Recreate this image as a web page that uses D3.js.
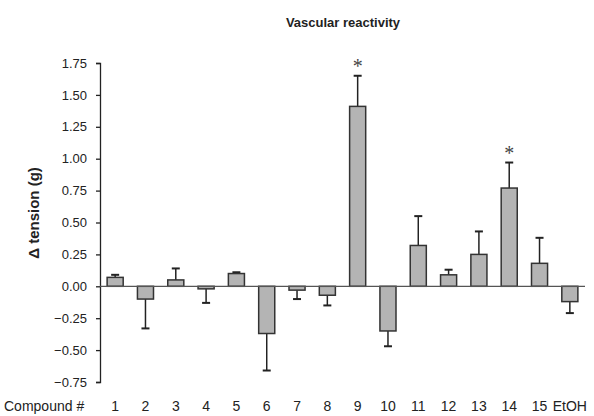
<!DOCTYPE html>
<html lang="en">
<head>
    <meta charset="UTF-8">
    <title>Vascular reactivity</title>
    <script src="https://d3js.org/d3.v7.min.js"></script>
    <style>
        body { margin: 0; background: #fff; }
        svg { display: block; font-family: "Liberation Sans", Arial, sans-serif; }
    </style>
</head>
<body>
<svg width="594" height="416"></svg>
<script>
    const compounds = ["1", "2", "3", "4", "5", "6", "7", "8", "9", "10", "11", "12", "13", "14", "15", "EtOH"];
    const tension = [0.07, -0.10, 0.05, -0.02, 0.10, -0.37, -0.03, -0.07, 1.41, -0.35, 0.32, 0.09, 0.25, 0.77, 0.18, -0.12];
    const errors = [0.02, 0.23, 0.09, 0.11, 0.01, 0.29, 0.07, 0.08, 0.24, 0.12, 0.23, 0.04, 0.18, 0.20, 0.20, 0.09];
    const significant = ["9", "14"];
    const yTicks = [-0.75, -0.5, -0.25, 0, 0.25, 0.5, 0.75, 1, 1.25, 1.5, 1.75];

    const svg = d3.select("svg");

    const x = d3.scaleBand()
        .domain(compounds)
        .range([100, 585])
        .paddingInner(0.47)
        .paddingOuter(0.235);

    const y = d3.scaleLinear()
        .domain([-0.75, 1.75])
        .range([382, 63]);

    // title
    svg.append("text")
        .attr("x", 343)
        .attr("y", 27)
        .attr("text-anchor", "middle")
        .style("font-size", "13px")
        .style("font-weight", "bold")
        .attr("fill", "#222")
        .text("Vascular reactivity");

    // y axis
    const yAxis = svg.append("g")
        .attr("transform", "translate(100,0)")
        .call(d3.axisLeft(y).tickValues(yTicks).tickSize(4).tickPadding(9)
            .tickFormat(d => d3.format(".2f")(d).replace("-", "\u2212")));
    yAxis.selectAll("text").style("font-size", "13px").attr("fill", "#222");
    yAxis.select(".domain").attr("stroke", "#222").attr("stroke-width", 1.3);
    yAxis.selectAll(".tick line").attr("stroke", "#222").attr("stroke-width", 1.3);

    svg.append("text")
        .attr("transform", "translate(39,213) rotate(-90)")
        .attr("text-anchor", "middle")
        .style("font-size", "15px")
        .style("font-weight", "bold")
        .attr("fill", "#222")
        .text("\u0394 tension (g)");

    // error bars (one-sided, away from zero)
    const eb = svg.append("g")
        .attr("stroke", "#222")
        .attr("stroke-width", 1.5)
        .selectAll("g")
        .data(compounds.map((c, i) => ({c, v: tension[i], e: errors[i]})))
        .join("g");
    eb.append("line")
        .attr("x1", d => x(d.c) + x.bandwidth() / 2)
        .attr("x2", d => x(d.c) + x.bandwidth() / 2)
        .attr("y1", d => y(d.v))
        .attr("y2", d => y(d.v + Math.sign(d.v) * d.e));
    eb.append("line")
        .attr("x1", d => x(d.c) + x.bandwidth() / 2 - 4)
        .attr("x2", d => x(d.c) + x.bandwidth() / 2 + 4)
        .attr("y1", d => y(d.v + Math.sign(d.v) * d.e))
        .attr("y2", d => y(d.v + Math.sign(d.v) * d.e))
        .attr("stroke-width", 2);

    // bars
    svg.append("g")
        .selectAll("rect")
        .data(compounds.map((c, i) => ({c, v: tension[i]})))
        .join("rect")
        .attr("x", d => x(d.c))
        .attr("width", x.bandwidth())
        .attr("y", d => y(Math.max(0, d.v)))
        .attr("height", d => Math.abs(y(d.v) - y(0)))
        .attr("fill", "#b4b4b4")
        .attr("stroke", "#333")
        .attr("stroke-width", 1.5);

    // zero line
    svg.append("line")
        .attr("x1", 100).attr("x2", 585)
        .attr("y1", y(0)).attr("y2", y(0))
        .attr("stroke", "#555")
        .attr("stroke-width", 1.3);

    // significance markers
    svg.append("g")
        .selectAll("text")
        .data(significant)
        .join("text")
        .attr("x", d => x(d) + x.bandwidth() / 2)
        .attr("y", d => {
            const i = compounds.indexOf(d);
            return y(tension[i] + errors[i]) - 3;
        })
        .attr("text-anchor", "middle")
        .style("font-family", "'Liberation Serif', serif")
        .style("font-size", "20px")
        .attr("fill", "#444")
        .text("*");

    // x labels
    svg.append("g")
        .selectAll("text")
        .data(compounds)
        .join("text")
        .attr("x", d => x(d) + x.bandwidth() / 2)
        .attr("y", 411)
        .attr("text-anchor", "middle")
        .style("font-size", "14px")
        .attr("fill", "#222")
        .text(d => d);

    svg.append("text")
        .attr("x", 4)
        .attr("y", 411)
        .style("font-size", "14px")
        .attr("fill", "#222")
        .text("Compound #");
</script>
</body>
</html>
